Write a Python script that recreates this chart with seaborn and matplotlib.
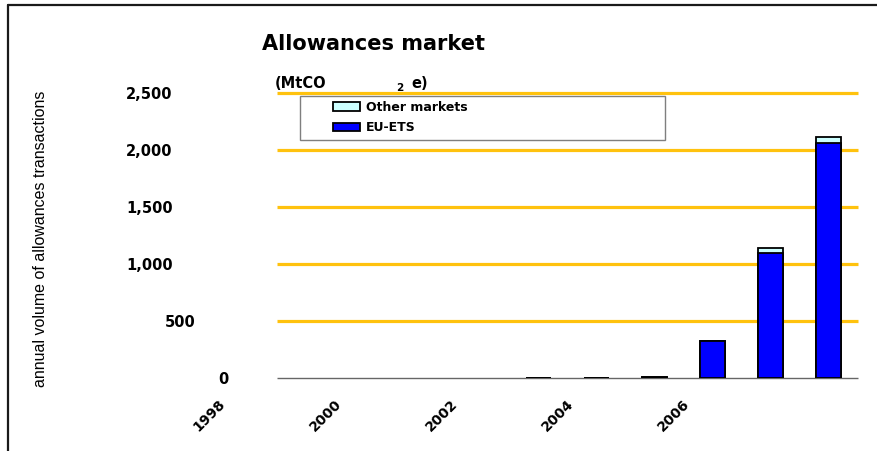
import seaborn as sns
import matplotlib.pyplot as plt
import matplotlib.patches as mpatches
import matplotlib.transforms as mtransforms
from matplotlib.lines import Line2D

# data (MtCO2e)
years = [2003, 2004, 2005, 2006, 2007, 2008]
eu_ets = [2, 2, 8, 322, 1096, 2061]
other_markets = [0, 1, 1, 3, 44, 53]
totals = [e + o for e, o in zip(eu_ets, other_markets)]

tick_years = [1998, 2000, 2002, 2004, 2006]
y_ticks = [0, 500, 1000, 1500, 2000, 2500]
y_labels = ['0', '500', '1,000', '1,500', '2,000', '2,500']

sns.set_theme(style='white')
plt.rcParams['font.family'] = ['DejaVu Sans']
plt.rcParams.update({'text.color': 'black', 'axes.labelcolor': 'black',
                     'xtick.color': 'black', 'ytick.color': 'black'})

W, H = 877, 451
fig = plt.figure(figsize=(W / 100, H / 100), dpi=100)
fig.patch.set_facecolor('white')

# axes from 1997.5 to 2008.5 so the 1998 label can sit left of the drawn axis
x0, x1 = 219, 858
y0, y1 = 378, 93
ax = fig.add_axes([x0 / W, (H - y0) / H, (x1 - x0) / W, (y0 - y1) / H])
ax.set_facecolor('white')

gold = '#FFC20E'
ax.hlines(y_ticks[1:], 1998.5, 2008.5, color=gold, lw=2.3, zorder=0, clip_on=False)

# stacked look: total (other markets) first, EU-ETS drawn over it
sns.barplot(x=years, y=totals, native_scale=True, color='#CCFFFF', saturation=1,
            edgecolor='black', linewidth=1.3, width=0.43, errorbar=None, ax=ax, zorder=2)
sns.barplot(x=years, y=eu_ets, native_scale=True, color='#0000FF', saturation=1,
            edgecolor='black', linewidth=1.3, width=0.43, errorbar=None, ax=ax, zorder=3)

ax.hlines(0, 1998.5, 2008.5, color='#666666', lw=1, zorder=1, clip_on=False)

ax.set_xlim(1997.5, 2008.5)
ax.set_ylim(0, 2500)
for s in ax.spines.values():
    s.set_visible(False)

ax.set_xticks(tick_years)
ax.set_xticklabels([str(y) for y in tick_years], rotation=45, ha='right', va='top',
                   fontsize=10, fontweight='bold')
ax.tick_params(axis='x', length=0, pad=13.5)
shift = mtransforms.ScaledTranslation(-0.2, 0, fig.dpi_scale_trans)
for lab in ax.get_xticklabels():
    lab.set_transform(lab.get_transform() + shift)

ax.set_yticks(y_ticks)
ax.set_yticklabels(y_labels, fontsize=10.5, fontweight='bold')
ax.tick_params(axis='y', length=0, pad=33.5)
# the lower labels sit further right in the original
y_shift = {'0': 0.56, '500': 0.23}
for lab in ax.get_yticklabels():
    dx = y_shift.get(lab.get_text(), 0)
    if dx:
        lab.set_transform(lab.get_transform() +
                          mtransforms.ScaledTranslation(dx, 0, fig.dpi_scale_trans))

ax.set_xlabel('')
ax.set_ylabel('annual volume of allowances transactions', fontsize=11.5,
              family='Liberation Sans')
ax.yaxis.set_label_coords((48 - x0) / (x1 - x0), 0.488)

# title and unit
fig.text(373 / W, 1 - 44 / H, 'Allowances market', ha='center', va='center',
         fontsize=15, fontweight='bold')
fig.text(275 / W, 1 - 83 / H, '(MtCO', ha='left', va='center', fontsize=10.5, fontweight='bold')
fig.text(396 / W, 1 - 88 / H, '2', ha='left', va='center', fontsize=7.5, fontweight='bold')
fig.text(411 / W, 1 - 83 / H, 'e)', ha='left', va='center', fontsize=10.5, fontweight='bold')

# legend box and entries
ax.add_patch(mpatches.Rectangle((300 / W, 1 - 140 / H), 365 / W, 44 / H,
                                transform=fig.transFigure, facecolor='white',
                                edgecolor='#7f7f7f', lw=1, zorder=4, clip_on=False))
handles = [mpatches.Patch(facecolor='#CCFFFF', edgecolor='black', lw=1.3, label='Other markets'),
           mpatches.Patch(facecolor='#0000FF', edgecolor='black', lw=1.3, label='EU-ETS')]
leg = ax.legend(handles=handles, loc='upper left', bbox_to_anchor=(333 / W, 1 - 101 / H),
                bbox_transform=fig.transFigure, frameon=False, borderpad=0, borderaxespad=0,
                handlelength=2.16, handleheight=0.64, handletextpad=0.5, labelspacing=0.6,
                prop={'size': 9, 'weight': 'bold'})
leg.set_zorder(5)

# figure frame (top and left edges visible)
fig.add_artist(Line2D([7.5 / W, 1], [1 - 4.5 / H, 1 - 4.5 / H], transform=fig.transFigure,
                      color='#1a1a1a', lw=1.6))
fig.add_artist(Line2D([7.5 / W, 7.5 / W], [0, 1 - 4.5 / H], transform=fig.transFigure,
                      color='#1a1a1a', lw=1.6))

fig.savefig('out.png', dpi=100, facecolor='white')
